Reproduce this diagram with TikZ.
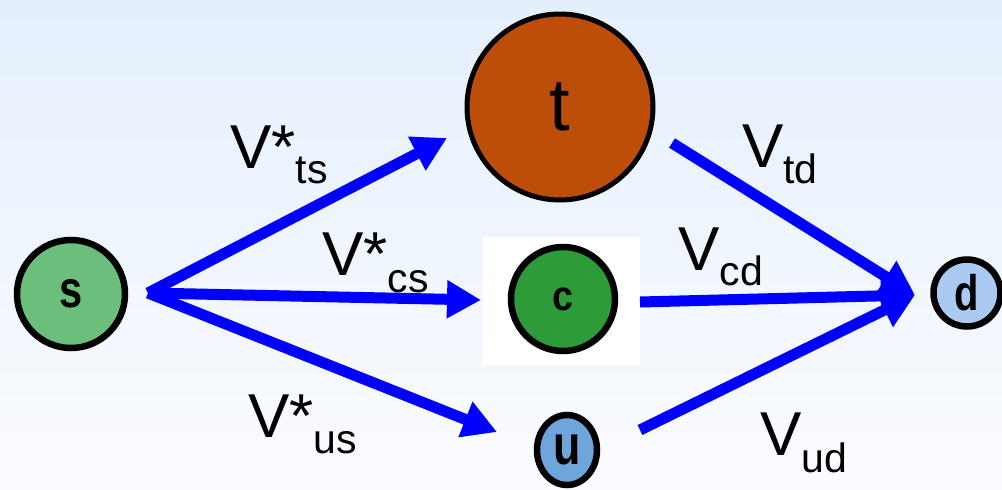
\documentclass[tikz,border=0pt]{standalone}
\usepackage{fontspec}
\setmainfont{Liberation Sans}
\usetikzlibrary{arrows.meta,shapes.geometric}
\definecolor{bgtop}{RGB}{228,239,252}
\definecolor{bgbot}{RGB}{251,252,255}
\definecolor{sgreen}{RGB}{108,190,125}
\definecolor{cgreen}{RGB}{44,155,56}
\definecolor{tbrown}{RGB}{188,78,10}
\definecolor{ublue}{RGB}{110,166,220}
\definecolor{dblue}{RGB}{170,202,242}
\definecolor{arrblue}{RGB}{0,0,255}
\tikzset{
  quark/.style={circle,draw=black,line width=6.5pt,inner sep=0pt,font=\bfseries},
  flow/.style={draw=arrblue,line width=11pt,-{Triangle[length=34pt,width=36pt]}},
  vlabel/.style={anchor=base west,inner sep=0pt,font=\fontsize{62}{62}\selectfont}
}
\newcommand{\subtxt}[2]{\raisebox{-#1pt}{\fontsize{41}{41}\selectfont #2}}
\begin{document}
\begin{tikzpicture}[x=1pt,y=-1pt]
\useasboundingbox (0,0) rectangle (1002,490);
\shade[top color=bgtop,bottom color=bgbot] (0,0) rectangle (1002,490);
\fill[white] (483,237) rectangle (640,365);
% quarks
\node[quark,fill=sgreen,minimum size=108pt] (s) at (71,294) {\fontsize{52}{52}\selectfont\scalebox{0.8}[1]{s}};
\node[quark,fill=tbrown,minimum size=186pt,line width=5pt,font=\mdseries] (t) at (560,107) {\raisebox{-12pt}{\fontsize{74}{74}\selectfont t}};
\node[quark,fill=cgreen,minimum size=104pt] (c) at (563,299) {\fontsize{42}{42}\selectfont\scalebox{0.9}[1]{c}};
\node[quark,ellipse,fill=ublue,minimum width=60pt,minimum height=70pt] (u) at (567,450) {\fontsize{56}{56}\selectfont\scalebox{0.8}[1]{u}};
\node[quark,fill=dblue,minimum size=67pt] (d) at (967,293) {\fontsize{50}{50}\selectfont\scalebox{0.8}[1]{d}};
% arrow end points
\coordinate (s0) at (148,293);
\coordinate (tin) at (447,138);
\coordinate (cin) at (481,300);
\coordinate (uin) at (497,432);
\coordinate (tout) at (672,143);
\coordinate (cout) at (640,302);
\coordinate (uout) at (640,430);
\coordinate (din) at (915,295);
\draw[flow] (s0) -- (tin);
\draw[flow] (s0) -- (cin);
\draw[flow] (s0) -- (uin);
\draw[flow] (tout) -- (din);
\draw[flow] (cout) -- (din);
\draw[flow] (uout) -- (din);
% labels
\node[vlabel] (lts) at (230,168) {V*\subtxt{15}{ts}};
\node[vlabel] (lcs) at (322,275) {V*\subtxt{17}{cs}};
\node[vlabel] (lus) at (248,437) {V*\subtxt{16}{us}};
\node[vlabel] (ltd) at (742,167) {V\subtxt{16}{td}};
\node[vlabel] (lcd) at (678,270) {V\subtxt{15}{cd}};
\node[vlabel] (lud) at (760,455) {V\subtxt{17}{ud}};
\end{tikzpicture}
\end{document}
